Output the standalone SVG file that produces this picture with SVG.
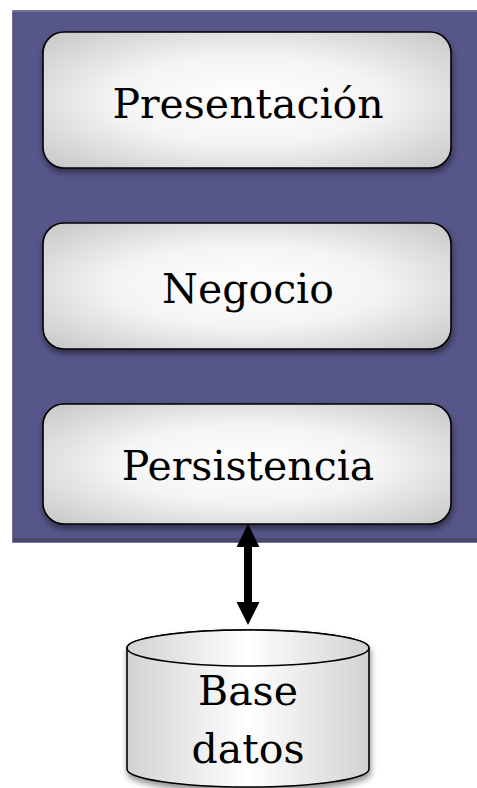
<svg xmlns="http://www.w3.org/2000/svg" width="477" height="788" viewBox="0 0 477 788">
<style>
.box{fill:url(#boxGrad);stroke:#000;stroke-width:1.6;filter:url(#shadow)}
.lbl{font-family:"DejaVu Serif","Liberation Serif",serif;font-size:41px;fill:#000;text-anchor:middle}
.conn{stroke:#000;stroke-width:8;fill:none}
</style>
<defs>
<radialGradient id="boxGrad" cx="0.5" cy="0.5" r="0.72" gradientUnits="objectBoundingBox">
<stop offset="0" stop-color="#ffffff"/>
<stop offset="0.45" stop-color="#f4f4f4"/>
<stop offset="1" stop-color="#c4c4c4"/>
</radialGradient>
<linearGradient id="cylGrad" x1="0" y1="0" x2="1" y2="0">
<stop offset="0" stop-color="#d2d2d2"/>
<stop offset="0.5" stop-color="#ffffff"/>
<stop offset="1" stop-color="#d2d2d2"/>
</linearGradient>
<filter id="shadow" x="-10%" y="-10%" width="120%" height="130%">
<feDropShadow dx="1" dy="4" stdDeviation="3" flood-color="#000" flood-opacity="0.45"/>
</filter>
<marker id="head" markerUnits="userSpaceOnUse" markerWidth="24" markerHeight="24" viewBox="0 0 24 24" refX="2" refY="12" orient="auto-start-reverse">
<path d="M0,0.5 L23,12 L0,23.5 z" fill="#000"/>
</marker>
</defs>
<g id="panel">
<rect x="13" y="11" width="470" height="531" fill="#56568a" stroke="#4a4a78" stroke-width="1.5"/>
<line x1="13" y1="11.5" x2="477" y2="11.5" stroke="#6e6e98" stroke-width="1"/>
<rect x="13" y="538" width="470" height="4" fill="#48486f"/>
</g>
<g id="presentacion">
<rect class="box" x="43" y="32" width="408" height="136" rx="21" ry="21"/>
<text class="lbl" x="248" y="118">Presentación</text>
</g>
<g id="negocio">
<rect class="box" x="43" y="223" width="408" height="126" rx="21" ry="21"/>
<text class="lbl" x="248" y="303">Negocio</text>
</g>
<g id="persistencia">
<rect class="box" x="43" y="404" width="408" height="120" rx="21" ry="21"/>
<text class="lbl" x="248" y="480">Persistencia</text>
</g>
<g id="connectors">
<line class="conn" x1="248" y1="545" x2="248" y2="604" marker-start="url(#head)" marker-end="url(#head)"/>
</g>
<g id="basedatos">
<path d="M127,648 L127,769 A121,18 0 0 0 369,769 L369,648 A121,18 0 0 0 127,648 z" fill="url(#cylGrad)" stroke="#000" stroke-width="1.6" filter="url(#shadow)"/>
<ellipse cx="248" cy="648" rx="121" ry="18" fill="url(#cylGrad)" stroke="#000" stroke-width="1.6"/>
<text class="lbl" x="248" y="705">Base</text>
<text class="lbl" x="248" y="763">datos</text>
</g>
</svg>
